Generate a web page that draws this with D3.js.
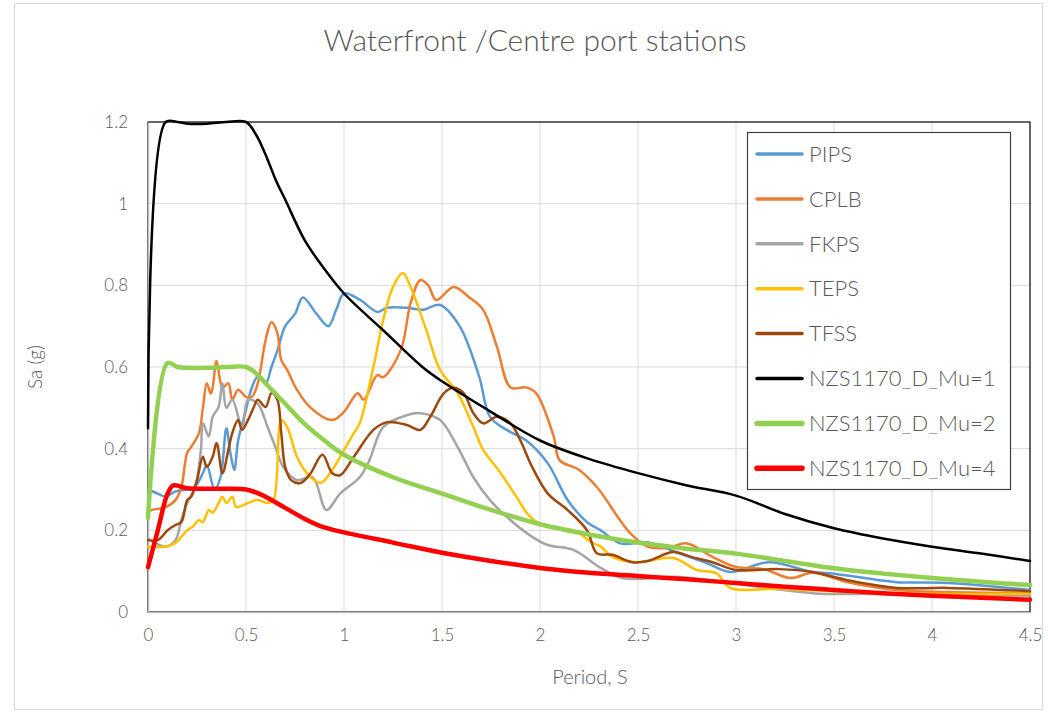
<!DOCTYPE html>
<html>
<head>
<meta charset="utf-8">
<script src="https://cdnjs.cloudflare.com/ajax/libs/d3/7.8.5/d3.min.js"></script>
<style>
  body { margin: 0; background: #fff; }
  text { font-family: Lato, "Open Sans", sans-serif; fill: #595959; }
</style>
</head>
<body>
<div id="chart"></div>
<script>
// period (s) vs Sa (g)
var PIPS = [[0,0.30],[0.05,0.29],[0.09,0.283],[0.14,0.295],[0.2,0.3],[0.24,0.307],[0.28,0.34],[0.3,0.36],[0.34,0.30],[0.37,0.33],[0.4,0.45],[0.42,0.39],[0.44,0.348],[0.46,0.42],[0.5,0.495],[0.53,0.55],[0.56,0.576],[0.6,0.56],[0.63,0.6],[0.66,0.64],[0.7,0.7],[0.75,0.73],[0.79,0.77],[0.86,0.73],[0.92,0.70],[0.96,0.74],[1.0,0.78],[1.08,0.765],[1.17,0.735],[1.22,0.745],[1.32,0.745],[1.4,0.74],[1.49,0.752],[1.59,0.70],[1.69,0.576],[1.745,0.478],[1.83,0.446],[1.93,0.42],[2.04,0.364],[2.14,0.275],[2.24,0.22],[2.31,0.2],[2.41,0.168],[2.55,0.17],[2.71,0.144],[2.85,0.12],[2.97,0.098],[3.17,0.122],[3.39,0.098],[3.48,0.095],[3.73,0.078],[3.82,0.073],[4.08,0.071],[4.5,0.054]];
var CPLB = [[0,0.245],[0.02,0.25],[0.09,0.257],[0.14,0.274],[0.17,0.306],[0.2,0.39],[0.22,0.404],[0.26,0.438],[0.28,0.5],[0.3,0.56],[0.32,0.535],[0.33,0.55],[0.35,0.615],[0.38,0.55],[0.41,0.56],[0.43,0.52],[0.46,0.544],[0.5,0.527],[0.53,0.527],[0.56,0.56],[0.6,0.666],[0.63,0.71],[0.66,0.683],[0.68,0.617],[0.71,0.593],[0.76,0.544],[0.83,0.50],[0.94,0.47],[1.0,0.49],[1.07,0.536],[1.1,0.52],[1.17,0.58],[1.2,0.575],[1.29,0.642],[1.34,0.757],[1.39,0.813],[1.43,0.80],[1.47,0.764],[1.56,0.796],[1.64,0.77],[1.71,0.74],[1.78,0.65],[1.85,0.55],[1.93,0.55],[1.98,0.536],[2.07,0.43],[2.1,0.372],[2.2,0.348],[2.29,0.306],[2.46,0.193],[2.55,0.16],[2.65,0.157],[2.75,0.168],[2.88,0.135],[3.0,0.11],[3.14,0.105],[3.28,0.083],[3.39,0.096],[3.57,0.073],[3.82,0.054],[4.08,0.049],[4.5,0.046]];
var FKPS = [[0,0.18],[0.09,0.16],[0.14,0.176],[0.17,0.225],[0.2,0.267],[0.24,0.306],[0.27,0.397],[0.28,0.462],[0.31,0.43],[0.33,0.478],[0.36,0.502],[0.38,0.56],[0.4,0.5],[0.43,0.52],[0.48,0.453],[0.51,0.52],[0.56,0.51],[0.61,0.453],[0.65,0.404],[0.69,0.355],[0.76,0.323],[0.84,0.33],[0.91,0.25],[0.98,0.29],[1.08,0.33],[1.13,0.372],[1.2,0.453],[1.32,0.482],[1.39,0.487],[1.49,0.47],[1.58,0.404],[1.66,0.33],[1.745,0.274],[1.83,0.233],[1.96,0.184],[2.04,0.164],[2.17,0.152],[2.31,0.108],[2.42,0.083],[2.71,0.086],[2.97,0.071],[3.39,0.046],[3.73,0.044],[4.5,0.04]];
var TEPS = [[0,0.16],[0.09,0.16],[0.14,0.169],[0.17,0.184],[0.2,0.2],[0.23,0.21],[0.26,0.225],[0.28,0.22],[0.31,0.25],[0.33,0.243],[0.36,0.267],[0.38,0.282],[0.4,0.267],[0.43,0.282],[0.45,0.257],[0.51,0.267],[0.56,0.274],[0.61,0.267],[0.64,0.274],[0.68,0.47],[0.71,0.453],[0.76,0.38],[0.81,0.34],[0.88,0.316],[0.94,0.348],[0.98,0.38],[1.05,0.438],[1.08,0.462],[1.15,0.6],[1.2,0.715],[1.25,0.796],[1.3,0.83],[1.34,0.796],[1.42,0.69],[1.49,0.593],[1.58,0.536],[1.66,0.453],[1.71,0.397],[1.8,0.34],[1.88,0.282],[1.95,0.233],[2.04,0.208],[2.17,0.2],[2.27,0.169],[2.31,0.16],[2.37,0.135],[2.49,0.122],[2.68,0.132],[2.8,0.103],[2.9,0.095],[2.97,0.059],[3.22,0.057],[3.73,0.046],[4.5,0.045]];
var TFSS = [[0,0.176],[0.05,0.176],[0.1,0.2],[0.14,0.213],[0.17,0.22],[0.2,0.274],[0.22,0.282],[0.25,0.323],[0.28,0.38],[0.3,0.355],[0.33,0.38],[0.35,0.414],[0.38,0.34],[0.41,0.397],[0.43,0.438],[0.46,0.47],[0.48,0.446],[0.51,0.47],[0.54,0.502],[0.56,0.52],[0.6,0.502],[0.63,0.536],[0.66,0.52],[0.68,0.438],[0.7,0.355],[0.73,0.323],[0.78,0.316],[0.83,0.34],[0.89,0.385],[0.94,0.34],[0.98,0.335],[1.05,0.38],[1.15,0.446],[1.22,0.465],[1.32,0.458],[1.39,0.446],[1.44,0.478],[1.51,0.536],[1.56,0.549],[1.61,0.536],[1.66,0.487],[1.71,0.462],[1.78,0.478],[1.85,0.462],[1.9,0.42],[1.96,0.355],[2.04,0.29],[2.14,0.25],[2.24,0.2],[2.29,0.144],[2.37,0.14],[2.47,0.122],[2.55,0.125],[2.68,0.147],[2.77,0.135],[2.88,0.122],[3.0,0.103],[3.22,0.105],[3.39,0.098],[3.57,0.078],[3.82,0.059],[4.08,0.059],[4.5,0.051]];
var MU1 = [[0,0.45],[0.09,1.2],[0.15,1.2],[0.2,1.196],[0.3,1.196],[0.4,1.2],[0.5,1.2],[0.55,1.17],[0.6,1.12],[0.65,1.06],[0.7,1.01],[0.8,0.91],[0.9,0.84],[1.0,0.78],[1.2,0.69],[1.4,0.6],[1.5,0.565],[1.75,0.49],[2.0,0.42],[2.25,0.375],[2.5,0.34],[2.75,0.31],[3.0,0.285],[3.25,0.24],[3.5,0.205],[3.75,0.18],[4.0,0.16],[4.25,0.143],[4.5,0.125]];
var MU2 = [[0,0.23],[0.1,0.61],[0.15,0.6],[0.2,0.598],[0.3,0.598],[0.4,0.6],[0.5,0.6],[0.55,0.585],[0.6,0.56],[0.7,0.51],[0.8,0.46],[0.9,0.42],[1.0,0.385],[1.25,0.33],[1.5,0.29],[1.75,0.25],[2.0,0.215],[2.25,0.19],[2.5,0.17],[2.75,0.155],[3.0,0.143],[3.25,0.125],[3.5,0.107],[3.75,0.094],[4.0,0.083],[4.25,0.074],[4.5,0.066]];
var MU4 = [[0,0.11],[0.05,0.2],[0.1,0.29],[0.13,0.31],[0.2,0.303],[0.3,0.302],[0.4,0.302],[0.5,0.3],[0.55,0.293],[0.6,0.282],[0.7,0.255],[0.8,0.228],[0.9,0.207],[1.0,0.195],[1.25,0.17],[1.5,0.145],[1.75,0.125],[2.0,0.108],[2.25,0.096],[2.5,0.088],[2.75,0.08],[3.0,0.071],[3.25,0.062],[3.5,0.054],[3.75,0.046],[4.0,0.04],[4.25,0.035],[4.5,0.03]];

var seriesNames = ["PIPS","CPLB","FKPS","TEPS","TFSS","NZS1170_D_Mu=1","NZS1170_D_Mu=2","NZS1170_D_Mu=4"];
var seriesData = [PIPS, CPLB, FKPS, TEPS, TFSS, MU1, MU2, MU4];
var seriesColors = ["#5b9bd5","#ed7d31","#a5a5a5","#ffc000","#9e480e","#000000","#92d050","#ff0000"];
var seriesWidths = [2.5, 2.5, 2.5, 2.5, 2.5, 2.5, 4.5, 4.5];

var xTicks = [0, 0.5, 1, 1.5, 2, 2.5, 3, 3.5, 4, 4.5];
var yTicks = [0, 0.2, 0.4, 0.6, 0.8, 1, 1.2];

var W = 1048, H = 716;
var plot = {left: 148, right: 1030, top: 122, bottom: 612};

var x = d3.scaleLinear().domain([0, 4.5]).range([plot.left, plot.right]);
var y = d3.scaleLinear().domain([0, 1.2]).range([plot.bottom, plot.top]);

var svg = d3.select("#chart").append("svg")
    .attr("width", W)
    .attr("height", H);

// chart frame
svg.append("rect")
    .attr("x", 14.5).attr("y", 3.5)
    .attr("width", 1028).attr("height", 706)
    .attr("fill", "#fff")
    .attr("stroke", "#d9d9d9");

// title
svg.append("text")
    .attr("x", 535).attr("y", 51)
    .attr("text-anchor", "middle")
    .style("font-size", "30px")
    .style("font-weight", 300)
    .text("Waterfront /Centre port stations");

// gridlines
svg.append("g").selectAll("line")
    .data(xTicks.slice(1, -1))
  .enter().append("line")
    .attr("x1", function(d) { return x(d); })
    .attr("x2", function(d) { return x(d); })
    .attr("y1", plot.top).attr("y2", plot.bottom)
    .attr("stroke", "#d9d9d9");
svg.append("g").selectAll("line")
    .data(yTicks.slice(1, -1))
  .enter().append("line")
    .attr("y1", function(d) { return y(d); })
    .attr("y2", function(d) { return y(d); })
    .attr("x1", plot.left).attr("x2", plot.right)
    .attr("stroke", "#d9d9d9");

// plot area border (top/right black, axes grey)
svg.append("rect")
    .attr("x", plot.left).attr("y", plot.top)
    .attr("width", plot.right - plot.left).attr("height", plot.bottom - plot.top)
    .attr("fill", "none").attr("stroke", "#000").attr("stroke-width", 1.2);

// x axis
var xAxis = svg.append("g")
    .attr("transform", "translate(0," + plot.bottom + ")")
    .call(d3.axisBottom(x).tickValues(xTicks).tickSize(0).tickPadding(17).tickFormat(d3.format("")));
xAxis.select(".domain").attr("stroke", "#bfbfbf").attr("stroke-width", 1.5);
xAxis.selectAll("text").style("font-size", "17px").style("font-weight", 300).attr("fill", "#595959");

// y axis
var yAxis = svg.append("g")
    .attr("transform", "translate(" + plot.left + ",0)")
    .call(d3.axisLeft(y).tickValues(yTicks).tickSize(0).tickPadding(20).tickFormat(d3.format("")));
yAxis.select(".domain").attr("stroke", "#bfbfbf").attr("stroke-width", 1.5);
yAxis.selectAll("text").style("font-size", "17px").style("font-weight", 300).attr("fill", "#595959");

// axis titles
svg.append("text")
    .attr("transform", "translate(42," + (plot.top + plot.bottom) / 2 + ") rotate(-90)")
    .attr("text-anchor", "middle")
    .style("font-size", "19px")
    .style("font-weight", 300)
    .text("Sa (g)");
svg.append("text")
    .attr("x", 590).attr("y", 684)
    .attr("text-anchor", "middle")
    .style("font-size", "20px")
    .style("font-weight", 300)
    .text("Period, S");

// series lines
var line = d3.line()
    .x(function(d) { return x(d[0]); })
    .y(function(d) { return y(d[1]); })
    .curve(d3.curveCatmullRom.alpha(0.5));

svg.append("g").selectAll("path")
    .data(seriesData)
  .enter().append("path")
    .attr("d", line)
    .attr("fill", "none")
    .attr("stroke", function(d, i) { return seriesColors[i]; })
    .attr("stroke-width", function(d, i) { return seriesWidths[i]; })
    .attr("stroke-linejoin", "round")
    .attr("stroke-linecap", "round");

// legend
var legend = svg.append("g");
legend.append("rect")
    .attr("x", 747.5).attr("y", 132.5)
    .attr("width", 263).attr("height", 357)
    .attr("fill", "#fff").attr("stroke", "#404040").attr("stroke-width", 1.2);

var item = legend.selectAll(".item")
    .data(seriesNames)
  .enter().append("g")
    .attr("class", "item")
    .attr("transform", function(d, i) { return "translate(0," + (154 + i * 44.9) + ")"; });
item.append("line")
    .attr("x1", 757).attr("x2", 802)
    .attr("stroke", function(d, i) { return seriesColors[i]; })
    .attr("stroke-width", function(d, i) { return seriesWidths[i] + 1; })
    .attr("stroke-linecap", "round");
item.append("text")
    .attr("x", 809).attr("dy", "0.35em")
    .style("font-size", "22px")
    .style("font-weight", 300)
    .text(function(d) { return d; });
</script>
</body>
</html>
